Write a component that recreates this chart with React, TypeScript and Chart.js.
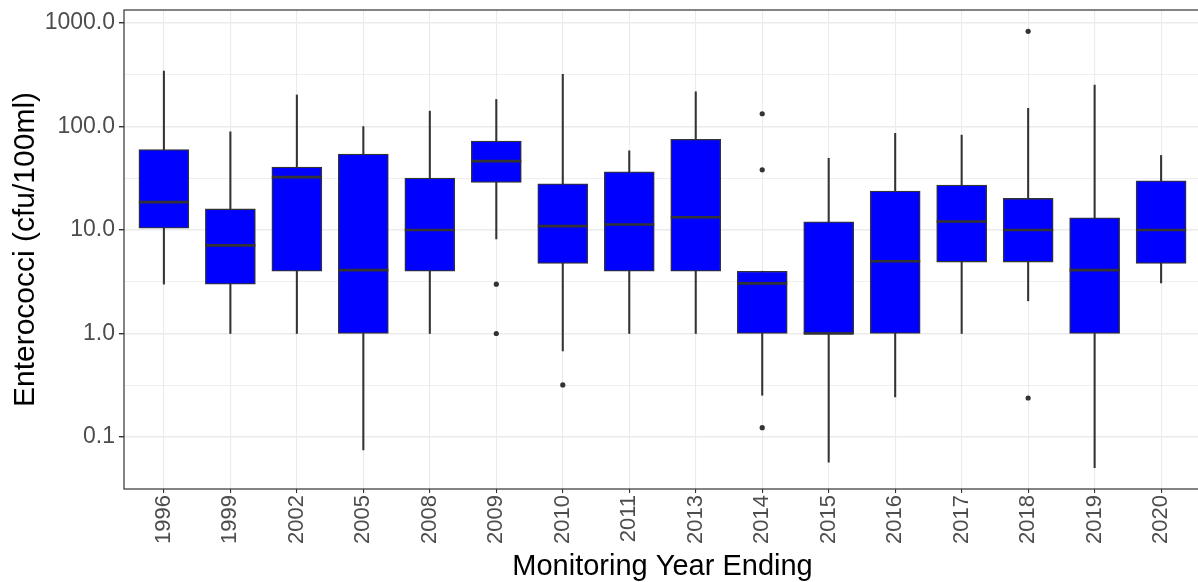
import { useEffect, useRef } from 'react';
import { Chart, registerables } from 'chart.js';

Chart.register(...registerables);

const years = ['1996', '1999', '2002', '2005', '2008', '2009', '2010', '2011', '2013', '2014', '2015', '2016', '2017', '2018', '2019', '2020'];
const whiskerLow = [3, 1, 1, 0.075, 1, 8.2, 0.68, 1, 1, 0.253, 0.057, 0.244, 1, 2.07, 0.0506, 3.08];
const q1 = [10.4, 3, 4, 1, 4, 28.9, 4.75, 4, 4, 1, 1, 1, 4.9, 4.9, 1, 4.75];
const median = [18.6, 7.1, 32.5, 4.1, 10, 46.4, 10.9, 11.3, 13.3, 3.05, 1, 5, 12.1, 10, 4.1, 10];
const q3 = [60, 16, 40.6, 54.2, 31.8, 72.4, 28, 36.5, 75.2, 4, 12, 23.8, 27.2, 20.2, 13.1, 29.9];
const whiskerHigh = [344, 89, 202, 100, 141, 183, 320, 58.3, 217, 4, 49.2, 86, 82.7, 150, 252, 52.6];
const outlierYears = ['2009', '2009', '2010', '2014', '2014', '2014', '2018', '2018'];
const outlierValues = [3, 1, 0.318, 133, 38.2, 0.123, 833, 0.238];
const yMajorTicks = [0.1, 1, 10, 100, 1000];
const yMinorTicks = [0.316, 3.16, 31.6, 316];

const FONT = "'Liberation Sans', Arial, sans-serif";

export default function App() {
  const ref = useRef<HTMLCanvasElement | null>(null);

  useEffect(() => {
    if (!ref.current) return;
    const majorSet = new Set(yMajorTicks);
    const borderPlugin = {
      id: 'panelBorder',
      afterDatasetsDraw(chart: any) {
        const { ctx, chartArea } = chart;
        ctx.save();
        ctx.strokeStyle = '#333333';
        ctx.lineWidth = 1.2;
        ctx.strokeRect(chartArea.left, chartArea.top, chartArea.right - chartArea.left, chartArea.bottom - chartArea.top);
        ctx.restore();
      },
    };
    const chart = new Chart(ref.current, {
      type: 'bar',
      data: {
        datasets: [
          {
            type: 'scatter',
            label: 'outliers',
            data: outlierYears.map((yr, i) => ({ x: years.indexOf(yr), y: outlierValues[i] })),
            pointRadius: 2.6,
            pointBackgroundColor: '#333333',
            pointBorderWidth: 0,
            order: 0,
          } as any,
          {
            type: 'scatter',
            label: 'median',
            data: years.map((_, i) => ({ x: i, y: median[i] })),
            pointStyle: 'line',
            pointRadius: 25,
            pointBorderColor: '#333333',
            pointBorderWidth: 2.6,
            order: 1,
          } as any,
          {
            type: 'bar',
            label: 'box',
            data: years.map((_, i) => ({ x: i, y: [q1[i], q3[i]] })),
            backgroundColor: '#0000FF',
            borderColor: '#333333',
            borderWidth: 1.3,
            borderSkipped: false,
            barThickness: 50,
            grouped: false,
            order: 2,
          } as any,
          {
            type: 'bar',
            label: 'whisker',
            data: years.map((_, i) => ({ x: i, y: [whiskerLow[i], whiskerHigh[i]] })),
            backgroundColor: '#333333',
            borderWidth: 0,
            barThickness: 1.4,
            grouped: false,
            order: 3,
          } as any,
        ],
      },
      options: {
        animation: false,
        responsive: false,
        maintainAspectRatio: false,
        layout: { autoPadding: false, padding: { top: 10, right: 9, left: 0, bottom: 0 } },
        plugins: { legend: { display: false }, tooltip: { enabled: false } },
        scales: {
          x: {
            type: 'linear',
            min: -0.6,
            max: 15.6,
            offset: false,
            afterBuildTicks: (axis: any) => {
              axis.ticks = years.map((_, i) => ({ value: i }));
            },
            afterFit: (scale: any) => {
              scale.height = 93;
              scale.paddingLeft = 0;
              scale.paddingRight = 0;
            },
            grid: {
              offset: false,
              color: '#EBEBEB',
              lineWidth: 1.1,
              tickColor: '#333333',
              tickLength: 4,
            },
            border: { display: false },
            ticks: {
              autoSkip: false,
              maxRotation: 90,
              minRotation: 90,
              padding: 2,
              color: '#4D4D4D',
              font: { family: FONT, size: 22 },
              callback: (v: any) => years[Math.round(Number(v))] ?? '',
            },
            title: {
              display: true,
              text: 'Monitoring Year Ending',
              color: '#000000',
              font: { family: FONT, size: 29, lineHeight: 1 },
              padding: { top: 0, bottom: 0.5 },
            },
          },
          y: {
            type: 'logarithmic',
            min: 0.0314,
            max: 1339,
            afterBuildTicks: (axis: any) => {
              axis.ticks = [...yMajorTicks, ...yMinorTicks].sort((a, b) => a - b).map((v) => ({ value: v }));
            },
            afterFit: (scale: any) => {
              scale.width = 124;
              scale.paddingTop = 0;
              scale.paddingBottom = 0;
            },
            grid: {
              color: '#EBEBEB',
              lineWidth: (ctx: any) => (ctx.tick && majorSet.has(ctx.tick.value) ? 1.4 : 0.8),
              tickColor: (ctx: any) => (ctx.tick && majorSet.has(ctx.tick.value) ? '#333333' : 'rgba(0,0,0,0)'),
              tickLength: 5,
            },
            border: { display: false },
            ticks: {
              autoSkip: false,
              padding: 4,
              color: '#4D4D4D',
              font: { family: FONT, size: 23 },
              callback: (v: any) => (majorSet.has(Number(v)) ? Number(v).toFixed(1) : ''),
            },
            title: {
              display: true,
              text: 'Enterococci (cfu/100ml)',
              color: '#000000',
              font: { family: FONT, size: 30, lineHeight: 1 },
              padding: { top: 11, bottom: 0 },
            },
          },
        },
      } as any,
      plugins: [borderPlugin],
    });
    return () => chart.destroy();
  }, []);

  return (
    <div style={{ position: 'absolute', left: 0, top: 0, width: 1198, height: 582, overflow: 'hidden', background: '#ffffff' }}>
      <canvas ref={ref} width={1210} height={582} style={{ width: 1210, height: 582, display: 'block' }} />
    </div>
  );
}
